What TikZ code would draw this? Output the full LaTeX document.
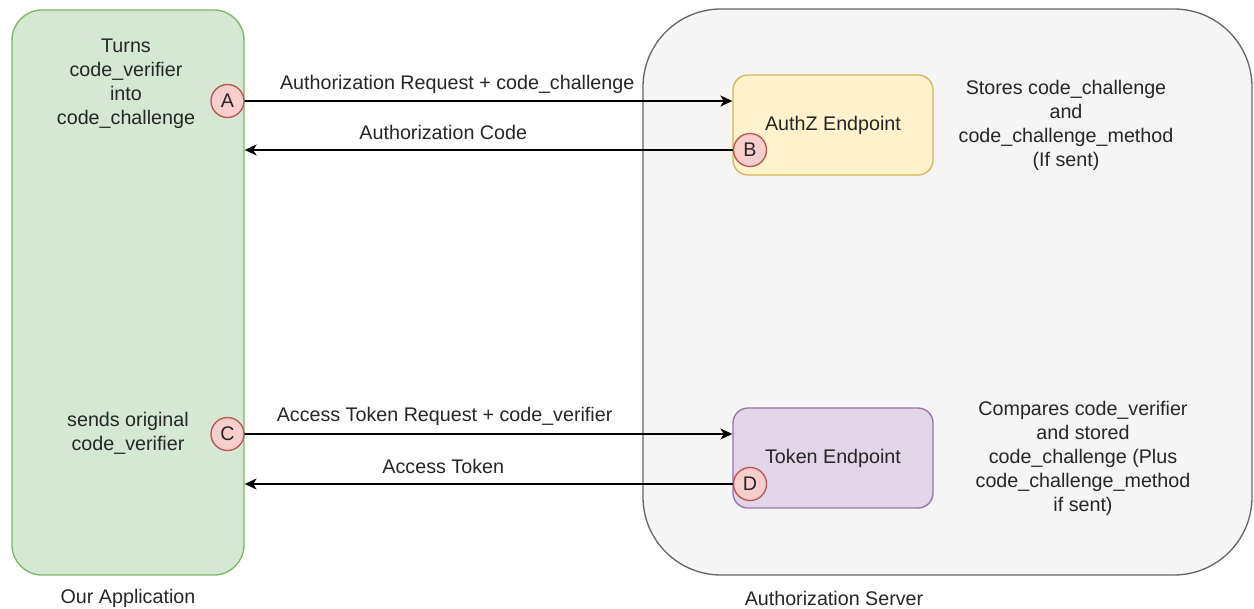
\documentclass[tikz,border=0pt]{standalone}
\usepackage{fontspec}
\setmainfont{Liberation Sans}
\usetikzlibrary{arrows.meta}

\definecolor{appfill}{HTML}{D5E8D4}
\definecolor{appline}{HTML}{82B366}
\definecolor{srvfill}{HTML}{F5F5F5}
\definecolor{srvline}{HTML}{666666}
\definecolor{azfill}{HTML}{FFF2CC}
\definecolor{azline}{HTML}{D6B656}
\definecolor{tkfill}{HTML}{E1D5E7}
\definecolor{tkline}{HTML}{9673A6}
\definecolor{stepfill}{HTML}{F8CECC}
\definecolor{stepline}{HTML}{B85450}

\begin{document}
\begin{tikzpicture}[x=1pt, y=-1pt,
  font=\fontsize{19.7}{24}\selectfont, text=black!85,
  box/.style={draw, line width=1.33pt, rounded corners=#1, inner sep=0pt},
  box/.default=15pt,
  badge/.style={circle, draw=stepline, fill=stepfill, line width=1.33pt,
    minimum size=33pt, inner sep=0pt},
  msg/.style={line width=1.33pt, -{Stealth[length=12pt, width=11pt, inset=3.5pt]}},
  note/.style={align=center, inner sep=0pt},
]
  \useasboundingbox (0,0) rectangle (1254,609);

  % the two parties
  \node[box=30pt, draw=appline, fill=appfill, minimum width=232pt, minimum height=565pt]
    (App) at (128,292.5) {};
  \node[box=78pt, draw=srvline, fill=srvfill, minimum width=609pt, minimum height=566pt]
    (Server) at (947.5,292) {};

  % endpoints of the server
  \node[box, draw=azline, fill=azfill, minimum width=200pt, minimum height=100pt]
    (AuthZ) at (833,125) {AuthZ Endpoint};
  \node[box, draw=tkline, fill=tkfill, minimum width=200pt, minimum height=100pt]
    (Token) at (833,458) {Token Endpoint};

  % steps
  \coordinate (A) at (227.5,101);
  \coordinate (B) at (750,150);
  \coordinate (C) at (227.5,434);
  \coordinate (D) at (750,484);

  % messages between app and server
  \draw[msg] (A) -- (A -| AuthZ.west)
    node[note, pos=0.455, yshift=17pt] (reqlbl) {Authorization Request + code\_challenge};
  \draw[msg] (B) -- (B -| App.east)
    node[note, pos=0.607, yshift=18pt] (codelbl) {Authorization Code};
  \draw[msg] (C) -- (C -| Token.west)
    node[note, pos=0.43, yshift=18pt] (tokreqlbl) {Access Token Request + code\_verifier};
  \draw[msg] (D) -- (D -| App.east)
    node[note, pos=0.607, yshift=18pt] (toklbl) {Access Token};

  \node[badge] (stepA) at (A) {A};
  \node[badge] (stepB) at (B) {B};
  \node[badge] (stepC) at (C) {C};
  \node[badge] (stepD) at (D) {D};

  % notes
  \node[note] (turns) at (126,84) {Turns\\code\_verifier\\into\\code\_challenge};
  \node[note] (sends) at (128,433) {sends original\\code\_verifier};
  \node[note] (stores) at (1066,125)
    {Stores code\_challenge\\and\\code\_challenge\_method\\(If sent)};
  \node[note] (compares) at (1083,458)
    {Compares code\_verifier\\and stored\\code\_challenge (Plus\\code\_challenge\_method\\if sent)};

  \node[note] (applbl) at (128,598) {Our Application};
  \node[note] (srvlbl) at (834,598) {Authorization Server};

\end{tikzpicture}
\end{document}
